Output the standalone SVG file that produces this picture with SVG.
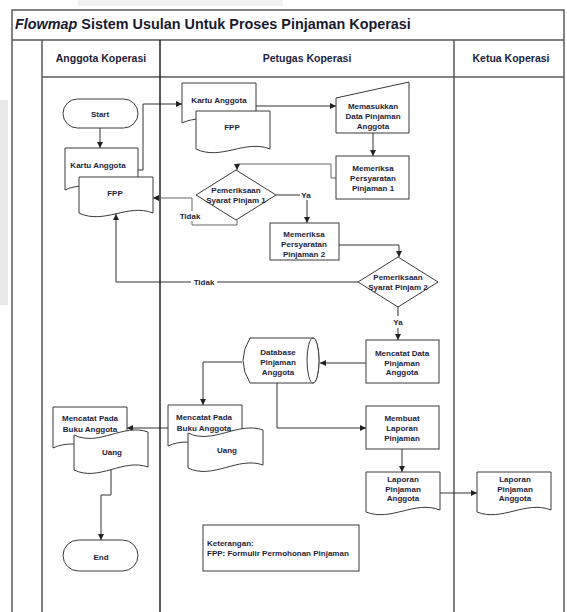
<svg xmlns="http://www.w3.org/2000/svg" width="567" height="612" viewBox="0 0 567 612">
  <defs>
    <marker id="ah" viewBox="0 0 6 6" refX="6" refY="3" markerWidth="6" markerHeight="6" markerUnits="userSpaceOnUse" orient="auto">
      <path d="M0,0 L6,3 L0,6 z" fill="#222"/>
    </marker>
    <style>
      .lane { stroke: #5a5a5a; stroke-width: 1.5; fill: none; }
      .sh { fill: #fff; stroke: #3a3a3a; stroke-width: 1; }
      .t { font-family: "Liberation Sans", Arial, sans-serif; font-size: 8px; font-weight: bold; fill: #1e1e3c; text-anchor: middle; }
      .ts { text-anchor: start; }
      .h { font-family: "Liberation Sans", Arial, sans-serif; font-size: 10.5px; font-weight: bold; fill: #1e1e3c; text-anchor: middle; }
      .ttl { font-family: "Liberation Sans", Arial, sans-serif; font-size: 14.4px; font-weight: bold; fill: #1a1a30; }
      .c { stroke: #333; stroke-width: 1; fill: none; }
      .a { marker-end: url(#ah); }
      .g { stroke: #666; }
    </style>
  </defs>

  <rect width="567" height="612" fill="#fff"/>
  <!-- page edge shading -->
  <rect x="0" y="100" width="8" height="205" fill="#e8e8e8"/>
  <rect x="78" y="0" width="205" height="6" fill="#f1f1f1"/>

  <!-- swimlane frame -->
  <g id="frame">
    <path class="lane" d="M12,612 V10 H564 V612 M12,40 H564 M42,77 H564 M42,40 V612 M454,40 V612"/>
    <path d="M160,40 V612" stroke="#222" stroke-width="1.5"/>
    <text class="ttl" x="15" y="29"><tspan font-style="italic">Flowmap</tspan> Sistem Usulan Untuk Proses Pinjaman Koperasi</text>
    <text class="h" x="101" y="62">Anggota Koperasi</text>
    <text class="h" x="307" y="62">Petugas Koperasi</text>
    <text class="h" x="511" y="62">Ketua Koperasi</text>
  </g>

  <!-- connectors -->
  <g id="connectors">
    <path class="c a" d="M100,128 V148"/>
    <path class="c a" d="M138,170 H143 V104 H182"/>
    <path class="c a" d="M256,106 H336"/>
    <path class="c a" d="M373,133 V156"/>
    <path class="c a g" d="M336,178 H331 V164 H237 V170"/>
    <path class="c" d="M276,195 H300"/>
    <text class="t" x="306" y="198">Ya</text>
    <path class="c a" d="M307,200 V223"/>
    <path class="c a g" d="M237,220 V225 H192 V198 H153"/>
    <rect x="178" y="211" width="24" height="10" fill="#fff"/>
    <text class="t" x="190" y="219">Tidak</text>
    <path class="c a" d="M339,245 H399 V257"/>
    <path class="c a" d="M358,282 H116 V214"/>
    <rect x="191" y="277" width="26" height="10" fill="#fff"/>
    <text class="t" x="204" y="285">Tidak</text>
    <path class="c" d="M398,307 V316"/>
    <text class="t" x="398" y="325">Ya</text>
    <path class="c a" d="M398,328 V340"/>
    <path class="c a" d="M366,363 H320"/>
    <path class="c a" d="M242,362 H203 V405"/>
    <path class="c a" d="M277,383 V428 H366"/>
    <path class="c a" d="M402,449 V472"/>
    <path class="c a" d="M440,493 H477"/>
    <path class="c a" d="M168,428 H127"/>
    <path class="c a" d="M111,468 V495 H101 V540"/>
  </g>

  <!-- Anggota Koperasi lane -->
  <g id="start">
    <rect class="sh" x="63" y="99" width="75" height="29" rx="14.5"/>
    <text class="t" x="100" y="117">Start</text>
  </g>
  <g id="kartu-anggota-1">
    <path class="sh" d="M65,148 H138 V188 C114,198 90,178 65,190 Z"/>
    <text class="t" x="98" y="168">Kartu Anggota</text>
  </g>
  <g id="fpp-1">
    <path class="sh" d="M79,177 H153 V213 C128,203 104,225 79,213 Z"/>
    <text class="t" x="115" y="196">FPP</text>
  </g>
  <g id="mencatat-buku-1">
    <path class="sh" d="M53,407 H127 V446 C103,456 78,436 53,448 Z"/>
    <text class="t" x="90" y="421">Mencatat Pada</text>
    <text class="t" x="90" y="432">Buku Anggota</text>
  </g>
  <g id="uang-1">
    <path class="sh" d="M74,435 C99,447 123,423 148,432 V467 C123,458 99,482 74,470 Z"/>
    <text class="t" x="112" y="455">Uang</text>
  </g>
  <g id="end">
    <rect class="sh" x="63" y="540" width="75" height="31" rx="15.5"/>
    <text class="t" x="101" y="560">End</text>
  </g>

  <!-- Petugas Koperasi lane -->
  <g id="kartu-anggota-2">
    <path class="sh" d="M182,83 H256 V121 C232,131 207,111 182,123 Z"/>
    <text class="t" x="219" y="103">Kartu Anggota</text>
  </g>
  <g id="fpp-2">
    <path class="sh" d="M196,111 H270 V149 C245,139 221,161 196,149 Z"/>
    <text class="t" x="232" y="130">FPP</text>
  </g>
  <g id="memasukkan-data">
    <path class="sh" d="M336,98 L409,82 V133 H336 Z"/>
    <text class="t" x="373" y="109">Memasukkan</text>
    <text class="t" x="373" y="119">Data Pinjaman</text>
    <text class="t" x="373" y="129">Anggota</text>
  </g>
  <g id="memeriksa-1">
    <rect class="sh" x="336" y="156" width="73" height="43"/>
    <text class="t" x="373" y="171">Memeriksa</text>
    <text class="t" x="373" y="181">Persyaratan</text>
    <text class="t" x="373" y="191">Pinjaman 1</text>
  </g>
  <g id="pemeriksaan-1">
    <path class="sh" d="M236,170 L276,195 L236,220 L196,195 Z"/>
    <text class="t" x="236" y="193">Pemeriksaan</text>
    <text class="t" x="236" y="203">Syarat Pinjam 1</text>
  </g>
  <g id="memeriksa-2">
    <rect class="sh" x="270" y="223" width="69" height="37"/>
    <text class="t" x="304" y="237">Memeriksa</text>
    <text class="t" x="304" y="247">Persyaratan</text>
    <text class="t" x="304" y="257">Pinjaman 2</text>
  </g>
  <g id="pemeriksaan-2">
    <path class="sh" d="M398,257 L438,282 L398,307 L358,282 Z"/>
    <text class="t" x="398" y="280">Pemeriksaan</text>
    <text class="t" x="398" y="290">Syarat Pinjam 2</text>
  </g>
  <g id="mencatat-data">
    <rect class="sh" x="366" y="340" width="73" height="43"/>
    <text class="t" x="402" y="356">Mencatat Data</text>
    <text class="t" x="402" y="365.5">Pinjaman</text>
    <text class="t" x="402" y="375">Anggota</text>
  </g>
  <g id="database">
    <path class="sh" d="M250,338 H313 A6,22.5 0 0 1 313,383 H250 Q236,360.5 250,338 Z"/>
    <ellipse class="sh" cx="313" cy="360.5" rx="6" ry="22.5"/>
    <text class="t" x="278" y="355">Database</text>
    <text class="t" x="278" y="365">Pinjaman</text>
    <text class="t" x="278" y="375">Anggota</text>
  </g>
  <g id="mencatat-buku-2">
    <path class="sh" d="M168,405 H242 V444 C218,454 193,434 168,446 Z"/>
    <text class="t" x="204" y="420">Mencatat Pada</text>
    <text class="t" x="204" y="431">Buku Anggota</text>
  </g>
  <g id="uang-2">
    <path class="sh" d="M188,433 C213,445 238,421 263,430 V465 C238,456 213,480 188,468 Z"/>
    <text class="t" x="227" y="453">Uang</text>
  </g>
  <g id="membuat-laporan">
    <rect class="sh" x="366" y="406" width="73" height="43"/>
    <text class="t" x="402" y="421">Membuat</text>
    <text class="t" x="402" y="431">Laporan</text>
    <text class="t" x="402" y="441">Pinjaman</text>
  </g>
  <g id="laporan-1">
    <path class="sh" d="M366,472 H440 V510 C415,500 391,522 366,512 Z"/>
    <text class="t" x="403" y="482">Laporan</text>
    <text class="t" x="403" y="492">Pinjaman</text>
    <text class="t" x="403" y="501">Anggota</text>
  </g>
  <g id="keterangan">
    <rect class="sh" x="203" y="525" width="156" height="46"/>
    <text class="t ts" x="207" y="546">Keterangan:</text>
    <text class="t ts" x="207" y="556">FPP: Formulir Permohonan Pinjaman</text>
  </g>

  <!-- Ketua Koperasi lane -->
  <g id="laporan-2">
    <path class="sh" d="M477,472 H551 V510 C526,500 502,522 477,512 Z"/>
    <text class="t" x="515" y="482">Laporan</text>
    <text class="t" x="515" y="492">Pinjaman</text>
    <text class="t" x="515" y="501">Anggota</text>
  </g>
</svg>
